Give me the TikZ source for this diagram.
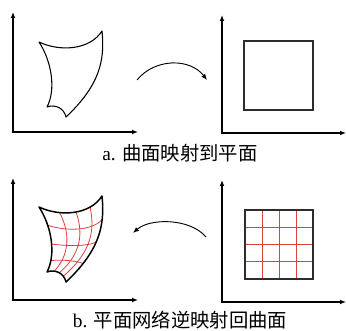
\documentclass[tikz,border=0pt]{standalone}
\usepackage{fontspec}
\setmainfont{Liberation Serif}
\newfontfamily\cjk{Noto Sans CJK SC}
\usetikzlibrary{arrows.meta, positioning}
\definecolor{gridred}{RGB}{226,62,62}
\definecolor{boxgray}{RGB}{45,45,45}

\begin{document}
\begin{tikzpicture}[x=0.75pt, y=-0.75pt, >={Latex[length=4.5pt,width=3.6pt]},
    axis/.style={<->, line width=0.9pt},
    sheet/.style={line width=0.8pt, line join=round},
    meshline/.style={gridred, line width=0.6pt},
    caption/.style={font=\fontsize{14.5}{17}\selectfont},
    declare function={
      bez(\a,\b,\c,\d,\t)=(1-\t)^3*\a+3*(1-\t)^2*\t*\b+3*(1-\t)*\t^2*\c+\t^3*\d;
      topx(\t)=bez(39,60,90,102,\t);   topy(\t)=bez(42,52,50,31,\t);
      botx(\t)=bez(47,55,64,66,\t);    boty(\t)=bez(107,104,108,117,\t);
      lefx(\t)=bez(39,52,56,47,\t);    lefy(\t)=bez(42,62,90,107,\t);
      rigx(\t)=bez(102,105,100,66,\t); rigy(\t)=bez(31,60,85,117,\t);
      patchx(\u,\v)=(1-\v)*topx(\u)+\v*botx(\u)+(1-\u)*lefx(\v)+\u*rigx(\v)
        -((1-\u)*(1-\v)*39+\u*(1-\v)*102+(1-\u)*\v*47+\u*\v*66);
      patchy(\u,\v)=(1-\v)*topy(\u)+\v*boty(\u)+(1-\u)*lefy(\v)+\u*rigy(\v)
        -((1-\u)*(1-\v)*42+\u*(1-\v)*31+(1-\u)*\v*107+\u*\v*117);
    }]
    \useasboundingbox (0,0) rectangle (346,331);

    % ---- a: surface -> plane ----
    \coordinate (ytopA) at (13,12);
    \coordinate (xendA) at (138,132);
    \draw[axis] (ytopA) |- (xendA);
    \coordinate (tl) at (39,42);
    \coordinate (tr) at (102,31);
    \coordinate (br) at (66,117);
    \coordinate (bl) at (47,107);
    \draw[sheet] (tl) .. controls (60,52) and (90,50) .. (tr)
                      .. controls (105,60) and (100,85) .. (br)
                      .. controls (64,108) and (55,104) .. (bl)
                      .. controls (56,90) and (52,62) .. cycle;
    % mapping arrow
    \coordinate (fromA) at (137,80);
    \coordinate (toA) at (207,80);
    \draw[->, line width=0.7pt] (fromA) .. controls (155,58) and (190,58) .. (toA);
    \coordinate (ytopB) at (222,15);
    \coordinate (xendB) at (346,133);
    \draw[axis] (ytopB) |- (xendB);
    \draw[line width=0.8pt, boxgray] (244,41) rectangle (313,110);
    \node[caption] (capA) at (180,153) {a. {\cjk 曲面映射到平面}};

    % ---- b: plane grid -> surface ----
    \coordinate (ytopC) at (13,178);
    \coordinate (xendC) at (138,300);
    \draw[axis] (ytopC) |- (xendC);
    \begin{scope}[shift={(0,165)}]
      \foreach \v in {0.28,0.55,0.8}
        \draw[meshline] plot[smooth, variable=\u, domain=0:1, samples=15]
          ({patchx(\u,\v)},{patchy(\u,\v)});
      \foreach \u in {0.3,0.53,0.75}
        \draw[meshline] plot[smooth, variable=\v, domain=0:1, samples=15]
          ({patchx(\u,\v)},{patchy(\u,\v)});
      \draw[sheet, line width=1.1pt] (39,42) .. controls (60,52) and (90,50) .. (102,31)
                      .. controls (105,60) and (100,85) .. (66,117)
                      .. controls (64,108) and (55,104) .. (47,107)
                      .. controls (56,90) and (52,62) .. cycle;
    \end{scope}
    % inverse arrow
    \coordinate (fromB) at (206,237);
    \coordinate (toB) at (133,233);
    \draw[->, line width=0.7pt] (fromB) .. controls (190,218) and (150,218) .. (toB);
    \coordinate (ytopD) at (222,180);
    \coordinate (xendD) at (346,302);
    \draw[axis] (ytopD) |- (xendD);
    \foreach \i in {1,2,3} {
      \draw[meshline] ({245+17*\i},210) -- ({245+17*\i},279);
      \draw[meshline] (245,{210+17.25*\i}) -- (313,{210+17.25*\i});
    }
    \draw[line width=1pt, boxgray] (245,210) rectangle (313,279);
    \node[caption] (capB) at (180,320) {b. {\cjk 平面网络逆映射回曲面}};

\end{tikzpicture}
\end{document}
